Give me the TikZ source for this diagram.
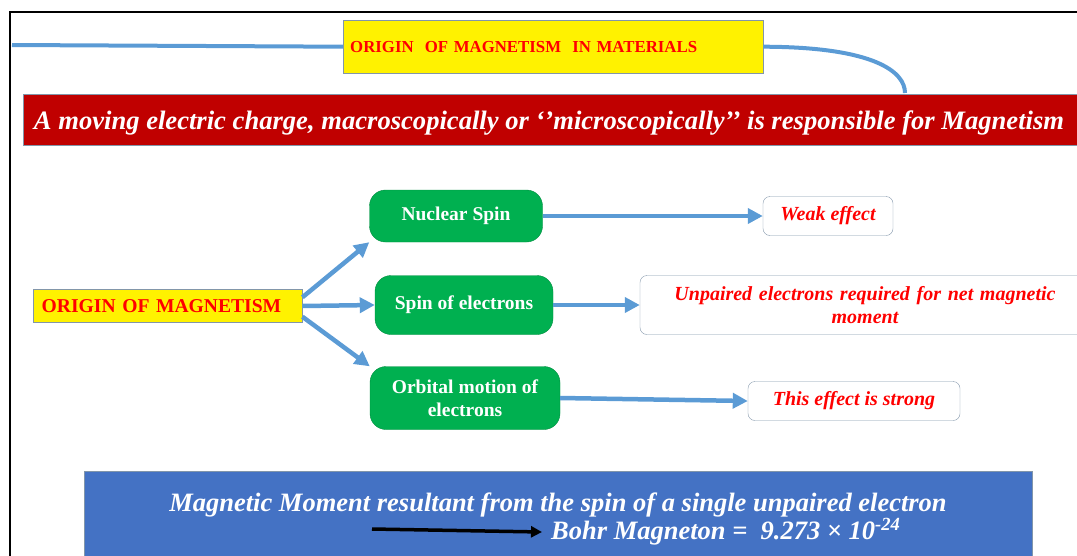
\documentclass[tikz,border=0pt]{standalone}
\usepackage{fontspec}
\setmainfont{Liberation Serif}
\usetikzlibrary{arrows.meta}
\definecolor{linkblue}{RGB}{91,155,213}
\definecolor{bannerred}{RGB}{192,0,0}
\definecolor{boxgreen}{RGB}{0,176,80}
\definecolor{momentblue}{RGB}{68,114,196}
\definecolor{edgegray}{RGB}{130,150,170}
\tikzset{
  yellowbox/.style={draw=edgegray, fill=yellow, text=red, font=\bfseries, inner sep=0pt},
  causebox/.style={rounded corners=16pt, fill=boxgreen, draw=boxgreen!80!black, text=white,
    font=\fontsize{19.5}{23}\selectfont\bfseries, align=center},
  effectbox/.style={rounded corners=7pt, draw=edgegray, fill=white, text=red,
    font=\fontsize{20}{23}\selectfont\bfseries\itshape, align=center},
  link/.style={linkblue, line width=4.5pt, -{Triangle[length=15pt,width=15pt]}}
}
\begin{document}
\begin{tikzpicture}[x=1pt, y=-1pt]
            \useasboundingbox (0, 0) rectangle (1077, 555);
            \clip (0, 0) rectangle (1077, 555);

            % frame and header
            \draw[line width=2pt] (10, 556) -- (10, 12) -- (1080, 12);
            \node[yellowbox, minimum width=420pt, minimum height=53pt, anchor=north west,
              text width=406pt, align=left, font=\fontsize{16.8}{19}\selectfont\bfseries]
              (title) at (343, 20) {ORIGIN\ \ OF MAGNETISM\ \ IN MATERIALS};
            \coordinate (lineend) at (12, 45);
            \coordinate (curveend) at (905, 93);
            \draw[linkblue, line width=4pt] (lineend) -- (title.west);
            \draw[linkblue, line width=4pt] (title.east) .. controls (875, 47) and (905, 72) .. (curveend);

            \node[fill=bannerred, draw=edgegray, minimum width=1070pt, minimum height=51pt,
              anchor=north west] (banner) at (23, 94) {};
            \node[text=white, font=\fontsize{26.6}{30}\selectfont\bfseries\itshape]
              (bannertext) at (549, 123) {A moving electric charge, macroscopically or ‘’microscopically’’ is responsible for Magnetism};

            % origin and causes
            \node[yellowbox, minimum width=269pt, minimum height=33pt, text width=262pt, align=left,
              font=\fontsize{19.6}{22}\selectfont\bfseries, anchor=west] (origin) at (33, 306)
              {\hspace*{5pt}ORIGIN\ OF MAGNETISM};

            \node[causebox, minimum width=173pt, minimum height=52pt] (nuclear) at (456, 216) {\strut Nuclear Spin};
            \node[causebox, minimum width=178pt, minimum height=59pt] (spinel) at (464, 305) {\strut Spin of electrons};
            \node[causebox, minimum width=190pt, minimum height=63pt] (orbital) at (465, 398) {Orbital motion of\\electrons};

            \node[effectbox, minimum width=130pt, minimum height=39pt] (weak) at (828, 216) {\strut Weak effect};
            \node[effectbox, minimum width=450pt, minimum height=59pt, text width=430pt]
              (unpaired) at (865, 305) {Unpaired electrons required for net magnetic\\moment};
            \node[effectbox, minimum width=212pt, minimum height=39pt] (strong) at (854, 401) {\strut This effect is strong};

            \draw[link] (origin.north east) ++(0, 8) -- (nuclear.south west);
            \draw[link] (origin.east) -- (spinel.west);
            \draw[link] (origin.south east) ++(0, -6) -- (orbital.north west);

            \draw[link] (nuclear.east) -- (weak.west);
            \draw[link] (spinel.east) -- (unpaired.west);
            \draw[link] (orbital.east) -- (strong.west);

            % bohr magneton
            \node[fill=momentblue, draw=edgegray, minimum width=948pt, minimum height=95pt, anchor=north west]
              (moment) at (84, 471) {};
            \node[text=white, font=\fontsize{26.5}{30}\selectfont\bfseries\itshape] (momenttext) at (558, 505)
              {Magnetic Moment resultant from the spin of a single unpaired electron};
            \node[text=white, font=\fontsize{26.5}{30}\selectfont\bfseries\itshape, anchor=west, inner sep=1pt] (bohr) at (550, 532)
              {Bohr Magneton =\ \ 9.273 × 10\textsuperscript{-24}};
            \coordinate (bohrstart) at (372, 529);
            \draw[line width=3.5pt, -{Triangle[length=11pt,width=11pt]}] (bohrstart) -- ([xshift=-8pt]bohr.west);
\end{tikzpicture}
\end{document}
